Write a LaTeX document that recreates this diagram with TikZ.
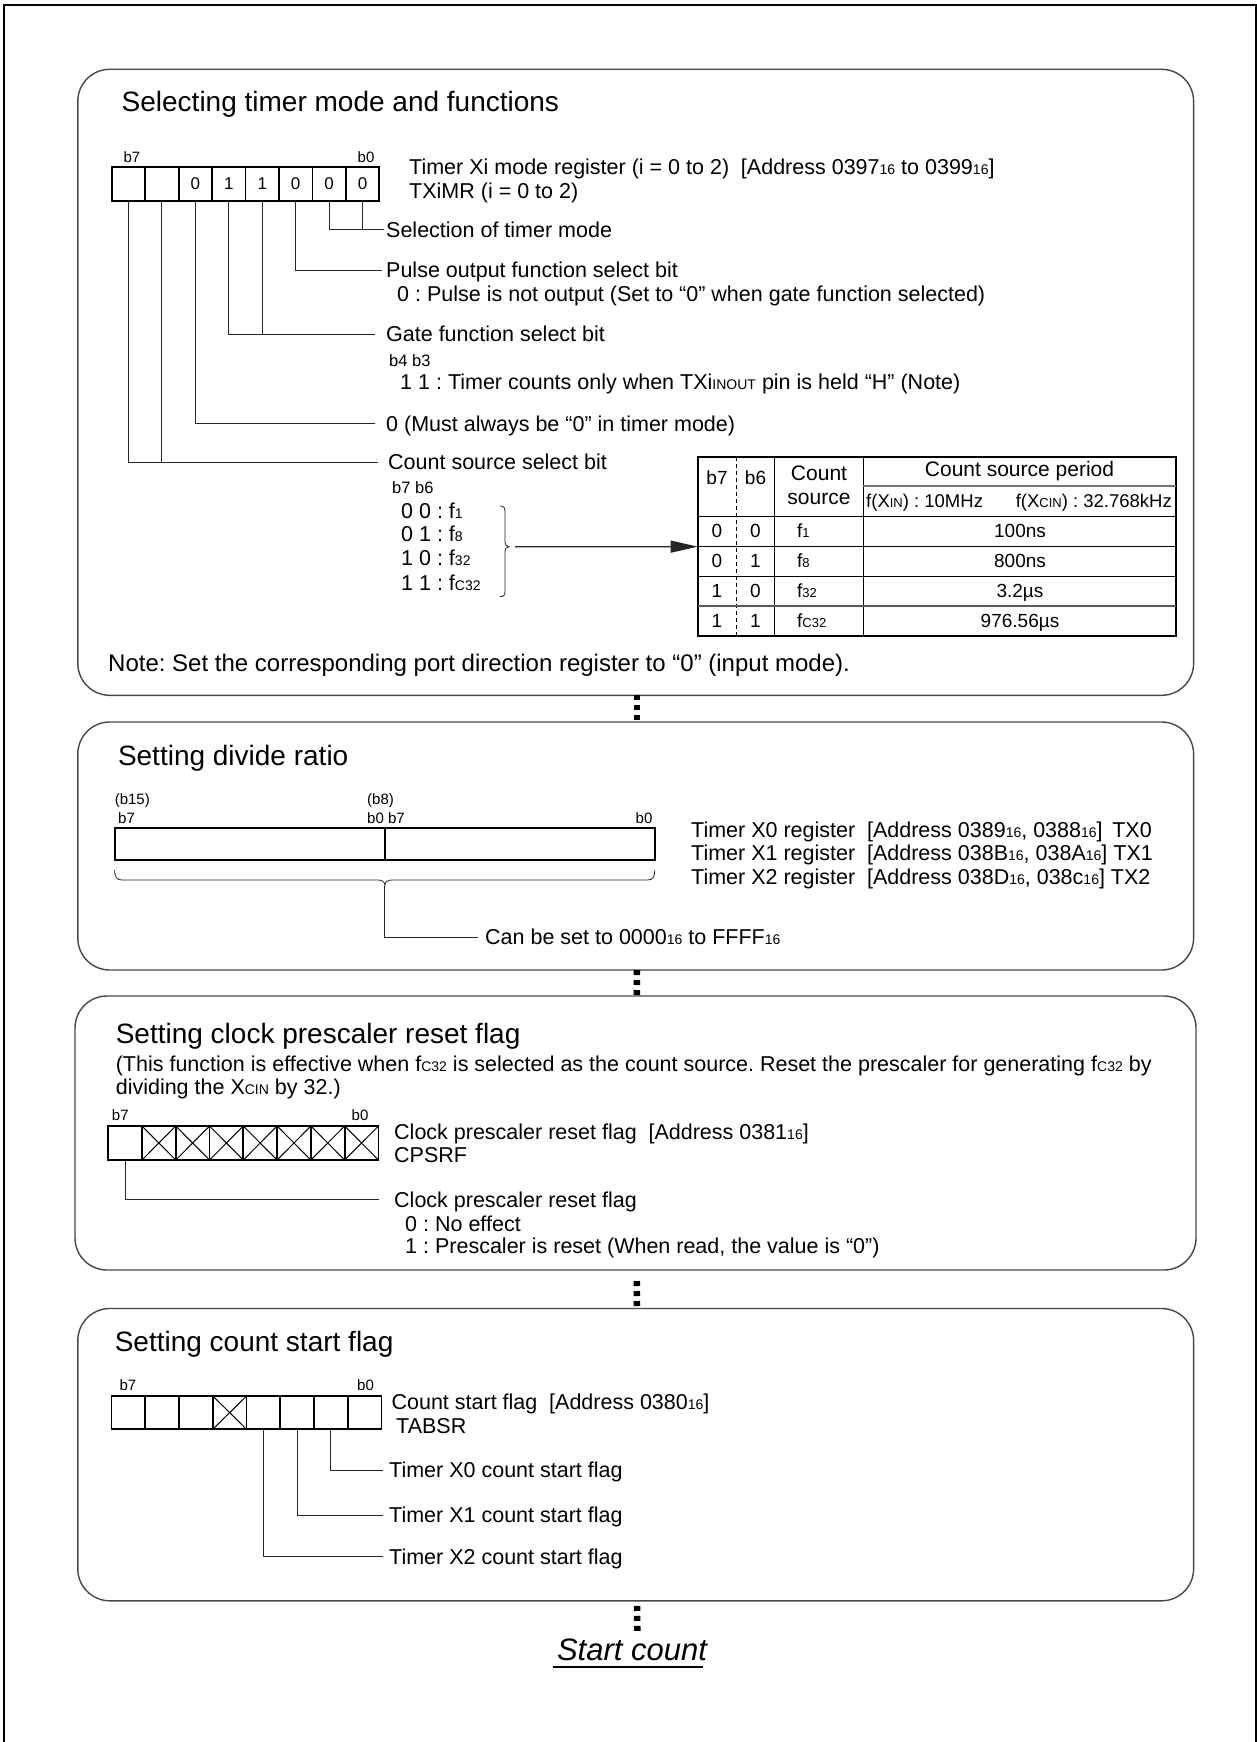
\documentclass[tikz,border=0pt]{standalone}
\usepackage{fontspec}
\setmainfont{Liberation Sans}
\usetikzlibrary{arrows.meta}
\frenchspacing
\newcommand{\fsz}[1]{\fontsize{#1}{#1}\selectfont}
\newcommand{\sm}[1]{{\fontsize{14}{14}\selectfont #1}}
\newcommand{\smt}[1]{{\fontsize{13}{13}\selectfont #1}}
\begin{document}
\begin{tikzpicture}[x=1pt,y=-1pt,
  panel/.style={draw=black!72, line width=1.4pt, rounded corners=32pt, anchor=north west, inner sep=0pt, outer sep=0pt},
  regcell/.style={draw, line width=1.8pt, minimum height=34pt, inner sep=0pt, outer sep=0pt, font=\fsz{17}},
  xmark/.style={line width=1pt},
  lead/.style={draw=black!85, line width=0.9pt},
  txt/.style={anchor=west, inner sep=0pt, text height=15.4pt, text depth=0pt, font=\fsz{21.5}},
  ttl/.style={anchor=base west, inner sep=0pt, font=\fsz{28}},
  bitlbl/.style={anchor=base, inner sep=0pt, font=\fsz{15}},
  sublbl/.style={anchor=west, inner sep=0pt, text height=11pt, text depth=0pt, font=\fsz{16.5}},
  tabtxt/.style={inner sep=0pt, text height=13.6pt, text depth=0pt, font=\fsz{19}},
  tabhd/.style={inner sep=0pt, text height=15pt, text depth=0pt, font=\fsz{21}},
  dotsq/.style={line width=6.5pt, dash pattern=on 5pt off 5pt},
  tline/.style={line width=1.1pt}
]
\fill[white] (0,0) rectangle (1257,1742);
\useasboundingbox (0,0) rectangle (1257,1742);
\draw[line width=2.2pt] (4,1742) -- (4,4.7) -- (1255.7,4.7) -- (1255.7,1742);

% ---------------- panels
\node[panel, minimum width=1115.8pt, minimum height=626pt] (p1) at (77.8,69.3) {};
\node[panel, minimum width=1115.8pt, minimum height=248pt] (p2) at (77.8,722) {};
\node[panel, minimum width=1121pt, minimum height=274pt] (p3) at (75,996) {};
\node[panel, minimum width=1115.8pt, minimum height=292.3pt] (p4) at (77.8,1308.5) {};

% ---------------- panel 1
\node[ttl] (title1) at (121.5,111.7) {Selecting timer mode and functions};
\foreach \v [count=\k from 0] in {{},{},0,1,1,0,0,0}
  \node[regcell, minimum width=33.45pt] (ra\k) at ({111.7+33.45*(\k+0.5)},184) {\v};
\node[bitlbl] (ra-b7) at (132,162) {b7};
\node[bitlbl] (ra-b0) at (366,162) {b0};
\node[anchor=base west, inner sep=0pt, font=\fsz{21.5}] (ra-name) at (409,174.7)
  {Timer Xi mode register (i = 0 to 2)\hspace{0.55em}[Address 0397\sm{16} to 0399\sm{16}]};
\node[anchor=base west, inner sep=0pt, font=\fsz{21.5}] (ra-sym) at (409,198.2) {TXiMR (i = 0 to 2)};

\node[txt] (t-sel) at (386,229.3) {Selection of timer mode};
\draw[lead] (ra6.south) |- ([xshift=-2pt]t-sel.west);
\draw[lead] (ra7.south) -- (ra7.south |- t-sel.west);

\node[txt] (t-pul) at (386,270) {Pulse output function select bit};
\draw[lead] (ra5.south) |- ([xshift=-4pt]t-pul.west);
\node[txt] (t-pul0) at (397,293.4) {0 : Pulse is not output (Set to “0” when gate function selected)};

\node[txt] (t-gate) at (386,334) {Gate function select bit};
\draw[lead] (ra3.south) |- ([xshift=-11pt]t-gate.west);
\draw[lead] (ra4.south) -- (ra4.south |- t-gate.west);
\node[sublbl] (t-b4b3) at (389,361) {b4 b3};
\node[txt] (t-gate11) at (400,381.5) {1 1 : Timer counts only when TXi\sm{INOUT} pin is held “H” (Note)};

\node[txt] (t-must) at (386,423.3) {0 (Must always be “0” in timer mode)};
\draw[lead] (ra2.south) |- ([xshift=-11pt]t-must.west);

\node[txt] (t-cs) at (388,462) {Count source select bit};
\draw[lead] (ra0.south) |- ([xshift=-10pt]t-cs.west);
\draw[lead] (ra1.south) -- (ra1.south |- t-cs.west);
\node[sublbl] (t-b7b6) at (392,487.5) {b7 b6};
\node[txt] (cs0) at (401,510.5) {0 0 : f\sm{1}};
\node[txt] (cs1) at (401,534) {0 1 : f\sm{8}};
\node[txt] (cs2) at (401,558) {1 0 : f\sm{32}};
\node[txt] (cs3) at (401,582.5) {1 1 : f\sm{C32}};

% brace and arrow
\draw[lead, line width=0.8pt] (500,506) .. controls (504,506) and (505,508) .. (505,512)
  -- (505,541) .. controls (505,544.8) and (506.5,546.7) .. (509,546.7)
  .. controls (506.5,546.7) and (505,548.5) .. (505,552.3)
  -- (505,591) .. controls (505,595) and (504,596.7) .. (500,596.7);
\coordinate (brace-tip) at (515,546.7);

% table
\node[draw, line width=1.8pt, anchor=north west, minimum width=478.3pt, minimum height=178.7pt, inner sep=0pt, outer sep=0pt] (tbl) at (697.7,457.3) {};
\draw[lead, line width=1.2pt, -{Triangle[length=27pt,width=12pt]}] (brace-tip) -- (tbl.west);
\draw[line width=0.8pt, dash pattern=on 4pt off 3pt] (736,457.3) -- (736,636);
\draw[tline] (774.7,457.3) -- (774.7,636);
\draw[tline] (863.3,457.3) -- (863.3,636);
\draw[line width=1.2pt, black!55] (863.3,486) -- (1176,486);
\draw[line width=1.5pt] (697.7,516.7) -- (1176,516.7);
\draw[tline] (697.7,546.7) -- (1176,546.7);
\draw[tline] (697.7,576.7) -- (1176,576.7);
\draw[line width=1.4pt, black!65] (697.7,606) -- (1176,606);

\node[tabtxt] (h-b7) at (717,478) {b7};
\node[tabtxt] (h-b6) at (755.5,478) {b6};
\node[tabhd] (h-cnt) at (819,473) {Count};
\node[tabhd] (h-src) at (819,497.3) {source};
\node[tabhd] (h-per) at (1019.5,469.3) {Count source period};
\node[tabtxt, anchor=west, font=\fsz{18.5}] (h-xin) at (866,500.7) {f(X\smt{IN}) : 10MHz};
\node[tabtxt, anchor=east, font=\fsz{18.5}] (h-xcin) at (1172,500.7) {f(X\smt{CIN}) : 32.768kHz};

\foreach \y/\a/\b/\s/\p in {530.7/0/0/1/100ns, 560.7/0/1/8/800ns, 590.7/1/0/32/3.2µs, 620.7/1/1/C32/976.56µs}{
  \node[tabtxt] at (717,\y) {\a};
  \node[tabtxt] at (755.5,\y) {\b};
  \node[tabtxt, anchor=west] at (797,\y) {f\smt{\s}};
  \node[tabtxt] at (1020,\y) {\p};
}

\node[anchor=west, inner sep=0pt, text height=17pt, text depth=0pt, font=\fsz{24}] (note) at (108,663)
  {Note: Set the corresponding port direction register to “0” (input mode).};

% ---------------- panel 2
\node[ttl] (title2) at (117.8,765) {Setting divide ratio};
\node[draw, line width=1.8pt, anchor=north west, minimum width=270.3pt, minimum height=32pt, inner sep=0pt, outer sep=0pt] (rb-hi) at (114.6,828) {};
\node[draw, line width=1.8pt, anchor=north west, minimum width=269.9pt, minimum height=32pt, inner sep=0pt, outer sep=0pt] (rb-lo) at (384.9,828) {};
\node[anchor=base west, inner sep=0pt, font=\fsz{15}] (l-b15) at (114.6,804) {(b15)};
\node[anchor=base west, inner sep=0pt, font=\fsz{15}] (l-b7a) at (118,823) {b7};
\node[anchor=base west, inner sep=0pt, font=\fsz{15}] (l-b8) at (367,804) {(b8)};
\node[anchor=base west, inner sep=0pt, font=\fsz{15}] (l-b0b7) at (367,823) {b0 b7};
\node[anchor=base east, inner sep=0pt, font=\fsz{15}] (l-b0) at (652.6,823) {b0};
\draw[lead, line width=0.8pt] (114.6,870) .. controls (114.6,876) and (116,880) .. (122,880)
  -- (378,880) .. controls (382.5,880) and (384.9,882) .. (384.9,885.5)
  .. controls (384.9,882) and (387.5,880) .. (392,880)
  -- (647.5,880) .. controls (653.5,880) and (654.8,876) .. (654.8,870);
\coordinate (rb-tip) at (384.9,885.5);
\node[txt] (t-can) at (485,937) {Can be set to 0000\sm{16} to FFFF\sm{16}};
\draw[lead] (rb-tip) |- ([xshift=-7pt]t-can.west);
\node[txt] (tx0) at (691,829.5) {Timer X0 register\hspace{0.55em}[Address 0389\sm{16}, 0388\sm{16}]\hspace{0.45em}TX0};
\node[txt] (tx1) at (691,853) {Timer X1 register\hspace{0.55em}[Address 038B\sm{16}, 038A\sm{16}] TX1};
\node[txt] (tx2) at (691,876.5) {Timer X2 register\hspace{0.55em}[Address 038D\sm{16}, 038c\sm{16}] TX2};

% ---------------- panel 3
\node[ttl] (title3) at (115.6,1043.3) {Setting clock prescaler reset flag};
\node[txt] (para1) at (115.6,1063.3) {(This function is effective when f\sm{C32} is selected as the count source. Reset the prescaler for generating f\sm{C32} by};
\node[txt] (para2) at (115.6,1086.7) {dividing the X\sm{CIN} by 32.)};
\foreach \k in {0,...,7}
  \node[regcell, minimum width=33.78pt] (rc\k) at ({108.2+33.78*(\k+0.5)},1143) {};
\foreach \k in {1,...,7}
  \draw[xmark] (rc\k.north west) -- (rc\k.south east) (rc\k.north east) -- (rc\k.south west);
\node[bitlbl] (rc-b7) at (120.3,1120) {b7};
\node[bitlbl] (rc-b0) at (360,1120) {b0};
\node[txt] (cpr-name) at (394,1131.7) {Clock prescaler reset flag\hspace{0.55em}[Address 0381\sm{16}]};
\node[txt] (cpr-sym) at (394,1155) {CPSRF};
\node[txt] (t-cpr) at (394,1199.3) {Clock prescaler reset flag};
\draw[lead] (rc0.south) |- ([xshift=-15pt]t-cpr.west);
\node[txt] (cpr0) at (405,1223.3) {0 : No effect};
\node[txt] (cpr1) at (405,1245.5) {1 : Prescaler is reset (When read, the value is “0”)};

% ---------------- panel 4
\node[ttl] (title4) at (114.6,1351.7) {Setting count start flag};
\foreach \k in {0,...,7}
  \node[regcell, minimum width=33.76pt, minimum height=33.3pt] (rd\k) at ({111.5+33.76*(\k+0.5)},1412.6) {};
\draw[xmark] (rd3.north west) -- (rd3.south east) (rd3.north east) -- (rd3.south west);
\node[bitlbl] (rd-b7) at (128,1390) {b7};
\node[bitlbl] (rd-b0) at (365.5,1390) {b0};
\node[txt] (cs-name) at (391.4,1401.7) {Count start flag\hspace{0.55em}[Address 0380\sm{16}]};
\node[txt] (cs-sym) at (396,1426) {TABSR};
\node[txt] (t-x0) at (389,1470) {Timer X0 count start flag};
\node[txt] (t-x1) at (389,1515) {Timer X1 count start flag};
\node[txt] (t-x2) at (389,1556.7) {Timer X2 count start flag};
\draw[lead] (rd6.south) |- ([xshift=-6.5pt]t-x0.west);
\draw[lead] (rd5.south) |- ([xshift=-6.5pt]t-x1.west);
\draw[lead] (rd4.south) |- ([xshift=-6.5pt]t-x2.west);

% ---------------- start count
\node[anchor=base, inner sep=0pt, font=\fsz{31}\itshape] (start) at (632,1660) {Start count};
\draw[line width=1.7pt] ([xshift=-4pt,yshift=-7pt]start.base west) -- ([xshift=-4pt,yshift=-7pt]start.base east);

% ---------------- dotted connectors
\draw[dotsq] ([xshift=1.3pt]p1.south) -- ([xshift=1.3pt]p2.north);
\draw[dotsq] ([xshift=1.3pt]p2.south) -- ([xshift=1.3pt]p3.north);
\draw[dotsq] ([xshift=1.3pt,yshift=-11pt]p3.south) -- ([xshift=1.3pt,yshift=2pt]p4.north);
\draw[dotsq] ([xshift=1.3pt,yshift=-5pt]p4.south) -- ([xshift=5.3pt,yshift=6.4pt]start.north);
\end{tikzpicture}
\end{document}
